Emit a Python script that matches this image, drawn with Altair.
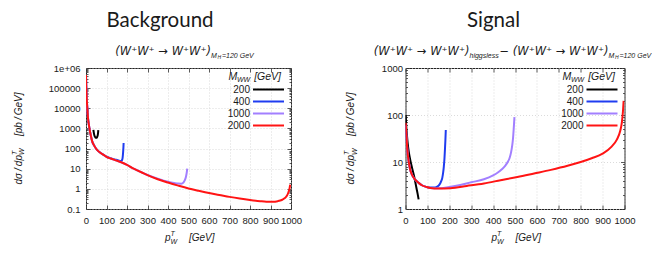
import altair as alt
import pandas as pd

# ---------------- data ----------------
SERIES = ["200", "400", "1000", "2000"]
COLORS = ["#000000", "#1f3cf0", "#a27fff", "#ff1414"]

# Background panel
bg_x_200 = [36, 38, 41, 44, 48, 52, 55, 57.5, 59, 60]
bg_y_200 = [850, 620, 450, 380, 340, 345, 390, 480, 620, 820]

bg_x_400 = [0, 1, 2, 3.5, 6, 10, 13, 19.5, 25, 31, 40, 55, 70, 88, 100, 120, 140, 155, 165, 172, 176, 179, 181, 182.5, 183.5]
bg_y_400 = [4.5e5, 1.5e5, 7e4, 3e4, 1.2e4, 3100, 1800, 680, 380, 215, 140, 83, 62, 47, 40, 33.5, 29, 26.5, 24.5, 24.5, 27, 38, 65, 115, 190]

bg_x_1000 = [0, 1, 2, 3.5, 6, 10, 13, 19.5, 25, 31, 40, 55, 70, 88, 100, 120, 145, 172, 200, 225, 250, 300, 350, 400, 430, 450, 465, 475, 482, 487, 490, 492, 493.5]
bg_y_1000 = [4.5e5, 1.5e5, 7e4, 3e4, 1.2e4, 3100, 1800, 680, 380, 215, 140, 83, 62, 47, 39, 32, 26, 21, 15.5, 11, 8.4, 4.9, 3.2, 2.25, 1.95, 1.82, 1.8, 2.05, 2.7, 3.8, 5.3, 7.2, 10]

bg_x_2000 = [0, 1, 2, 3.5, 6, 10, 13, 19.5, 25, 31, 40, 55, 70, 88, 100, 120, 145, 172, 200, 225, 250, 275, 300, 350, 400, 450, 500, 550, 600, 650, 700, 750, 800, 850, 880, 910, 935, 955, 970, 980, 988, 993, 996]
bg_y_2000 = [4.5e5, 1.5e5, 7e4, 3e4, 1.2e4, 3100, 1800, 680, 380, 215, 140, 83, 62, 47, 39, 32, 26, 21, 15.5, 11, 8.3, 6.3, 4.8, 3.0, 2.05, 1.45, 1.05, 0.8, 0.62, 0.5, 0.4, 0.33, 0.28, 0.245, 0.232, 0.23, 0.245, 0.28, 0.35, 0.45, 0.7, 1.05, 1.6]

# Signal panel
sg_x_200 = [1, 3, 6, 10, 15, 21, 30, 40, 44, 50, 55, 60]
sg_y_200 = [100, 62, 40, 25, 16.5, 11.5, 7.5, 4.8, 3.9, 2.8, 2.15, 1.6]

sg_x_400 = [1, 3, 5, 9, 15, 21, 30, 44, 60, 75, 95, 110, 128, 145, 155, 163, 168, 172, 175, 178, 180, 182, 184]
sg_y_400 = [62, 43, 31, 17, 10, 7, 5.3, 4.2, 3.6, 3.2, 2.95, 2.85, 2.85, 3.0, 3.3, 3.9, 4.6, 6, 8, 12, 18, 28, 48]

sg_x_1000 = [1, 3, 5, 9, 15, 21, 30, 44, 60, 75, 95, 113, 150, 200, 250, 300, 358, 400, 420, 440, 455, 465, 475, 482, 487, 491, 494, 496, 497.5]
sg_y_1000 = [60, 43, 31, 17, 10, 7, 5.3, 4.2, 3.6, 3.2, 2.95, 2.8, 2.75, 2.95, 3.25, 3.7, 4.3, 5.2, 5.9, 7, 8.3, 9.7, 12, 16, 22, 32, 50, 70, 90]

sg_x_2000 = [1, 3, 5, 9, 15, 21, 30, 44, 60, 75, 95, 113, 150, 205, 280, 358, 434, 511, 587, 664, 740, 800, 850, 900, 940, 965, 980, 988, 993, 996]
sg_y_2000 = [68, 45, 32, 17, 10, 7, 5.3, 4.2, 3.6, 3.2, 2.95, 2.8, 2.72, 2.78, 3.1, 3.5, 4.1, 4.8, 5.7, 6.8, 8.3, 10, 12, 15, 21, 30, 45, 70, 120, 200]

X_TICKS = list(range(0, 1001, 100))
BG_Y_TICKS = [0.1, 1, 10, 100, 1000, 10000, 100000, 1000000]
SG_Y_TICKS = [1, 10, 100, 1000]

TITLE_BG = "Background"
TITLE_SG = "Signal"
PROC = "(W\u207aW\u207a \u2192 W\u207aW\u207a)"

# ---------------- styling ----------------
FONT = "Liberation Sans"
MFONT = "DejaVu Sans"
TCOL = "#1a1a1a"
ONE = alt.Data(values=[{"k": 0}])


def txt(s, x, y, size, angle=0, align="left", baseline="alphabetic", italic=True, font=FONT):
    return alt.Chart(ONE).mark_text(
        text=s, align=align, baseline=baseline, fontSize=size, angle=angle,
        font=font, fontStyle="italic" if italic else "normal", color=TCOL
    ).encode(x=alt.value(x), y=alt.value(y))


def minor_of(ticks):
    out = []
    for t in ticks[:-1]:
        for k in range(2, 10):
            out.append(t * k)
    return out


def panel(xs_list, ys_list, w, h, ydom, yticks, label_expr, ylab_pad,
          title, title_x, ytitle_x, legend_x, legend_title_x, sub_texts):
    xs = alt.Scale(domain=[0, 1000], nice=False, zero=False)
    ys = alt.Scale(type="log", domain=ydom, nice=False)
    color = alt.Color("M:N", scale=alt.Scale(domain=SERIES, range=COLORS), legend=None)
    layers = []
    dfs = []
    for M, xv, yv in zip(SERIES, xs_list, ys_list):
        df = pd.DataFrame({"pt": xv, "v": yv, "M": M})
        dfs.append(df)
        layers.append(
            alt.Chart(df).mark_line(strokeWidth=2, interpolate="monotone", clip=True).encode(
                x=alt.X("pt:Q", scale=xs, axis=None),
                y=alt.Y("v:Q", scale=ys, axis=None),
                color=color,
            )
        )
    base = dfs[-1]

    def ax_layer(xaxis, yaxis):
        return alt.Chart(base).mark_point(opacity=0).encode(
            x=alt.X("pt:Q", scale=xs, axis=xaxis),
            y=alt.Y("v:Q", scale=ys, axis=yaxis),
        )

    # labelled axes + grid
    layers.append(ax_layer(
        alt.Axis(orient="bottom", values=X_TICKS, ticks=False, domain=False, grid=True,
                 gridColor="#cccccc", gridDash=[1, 2], gridWidth=0.7, labelFont=FONT,
                 labelFontSize=9.5, labelColor=TCOL, labelPadding=6, labelFlush=False,
                 labelOverlap=False, labelExpr="format(datum.value, 'd')", title=None),
        alt.Axis(orient="left", values=yticks, ticks=False, domain=False, grid=True,
                 gridColor="#cccccc", gridDash=[1, 2], gridWidth=0.7, labelFont=FONT,
                 labelFontSize=9.5, labelColor=TCOL, labelPadding=ylab_pad, labelExpr=label_expr,
                 labelOverlap=False, title=None),
    ))
    tick = dict(labels=False, domain=False, grid=False, ticks=True, tickColor="#333333",
                tickWidth=0.8, title=None)
    # inward major ticks: bottom & left
    layers.append(ax_layer(
        alt.Axis(orient="top", offset=-h, values=X_TICKS, tickSize=4, **tick),
        alt.Axis(orient="right", offset=-w, values=yticks, tickSize=4, **tick),
    ))
    # inward major ticks: top & right
    layers.append(ax_layer(
        alt.Axis(orient="bottom", offset=-h, values=X_TICKS, tickSize=4, **tick),
        alt.Axis(orient="left", offset=-w, values=yticks, tickSize=4, **tick),
    ))
    minors = minor_of(yticks)
    layers.append(ax_layer(None, alt.Axis(orient="right", offset=-w, values=minors, tickSize=2, **tick)))
    layers.append(ax_layer(None, alt.Axis(orient="left", offset=-w, values=minors, tickSize=2, **tick)))

    # title
    layers.append(txt(title, title_x, -41, 20.5, align="center", italic=False, font="Lato"))
    # subtitle pieces
    for s, x, y, size, align in sub_texts:
        layers.append(txt(s, x, y, size, align=align, font=MFONT if size > 8 else FONT))
    # y-axis title (rotated)
    layers.append(txt("d\u03c3\u2009/\u2009dp", ytitle_x, 87, 10, angle=270, align="right", baseline="middle"))
    layers.append(txt("W", ytitle_x + 3.5, 87, 7, angle=270, align="left", baseline="middle"))
    layers.append(txt("T", ytitle_x - 4, 87, 7, angle=270, align="left", baseline="middle"))
    layers.append(txt("[pb\u2009/\u2009GeV]", ytitle_x, 68, 10, angle=270, align="left", baseline="middle"))
    # x-axis title
    cx = w / 2
    layers.append(txt("p", cx - 18, h + 32, 10, align="right"))
    layers.append(txt("W", cx - 18, h + 35, 7, align="left"))
    layers.append(txt("T", cx - 18, h + 27, 7, align="left"))
    layers.append(txt("[GeV]", cx + 0.5, h + 32, 10, align="left"))
    # legend (key drawn inside the panel, labels left of the line samples)
    layers.append(txt("M", legend_title_x, 12, 10.5, align="left"))
    layers.append(txt("WW", legend_title_x + 8.5, 14, 7, align="left"))
    layers.append(txt("[GeV]", legend_title_x + 52.5, 12, 10.5, align="right"))
    for i, (M, c) in enumerate(zip(SERIES, COLORS)):
        yy = 21.5 + 12 * i
        layers.append(
            alt.Chart(ONE).mark_rule(strokeWidth=2, color=c).encode(
                x=alt.value(legend_x), x2=alt.value(legend_x + 31), y=alt.value(yy)
            )
        )
        layers.append(txt(M, legend_x - 3, yy, 10, align="right", baseline="middle", italic=False))

    return alt.layer(*layers).resolve_axis(x="independent", y="independent").properties(width=w, height=h)


W_L, W_R, H = 205, 219, 141

left = panel(
    [bg_x_200, bg_x_400, bg_x_1000, bg_x_2000],
    [bg_y_200, bg_y_400, bg_y_1000, bg_y_2000],
    W_L, H, [0.1, 1e6], BG_Y_TICKS,
    "datum.value >= 1e6 ? '1e+06' : (datum.value < 1 ? '0.1' : format(datum.value, 'd'))",
    6, TITLE_BG, 74, -67.5, 167, 142.5,
    [
        (PROC, 125, -13, 11.5, "right"),
        ("M", 125, -10.5, 7, "left"),
        ("H", 131.5, -9, 5, "left"),
        ("=120 GeV", 136, -10.5, 7, "left"),
    ],
)

right = panel(
    [sg_x_200, sg_x_400, sg_x_1000, sg_x_2000],
    [sg_y_200, sg_y_400, sg_y_1000, sg_y_2000],
    W_R, H, [1, 1000], SG_Y_TICKS,
    "format(datum.value, 'd')",
    3, TITLE_SG, 88, -54.3, 181, 157,
    [
        (PROC, 64, -13, 11.5, "right"),
        ("higgsless", 64, -10.5, 7, "left"),
        ("\u2009\u2212 " + PROC, 203, -13, 11.5, "right"),
        ("M", 203, -10.5, 7, "left"),
        ("H", 209.5, -9, 5, "left"),
        ("=120 GeV", 214, -10.5, 7, "left"),
    ],
)

chart = (
    alt.hconcat(left, right, spacing=39.5)
    .resolve_scale(color="independent")
    .properties(padding={"left": 2, "top": 2, "right": 0, "bottom": 0}, background="white")
    .configure_view(stroke="#222222", strokeWidth=1)
)

chart.save("out.html", embed_options={"renderer": "svg", "actions": False})
